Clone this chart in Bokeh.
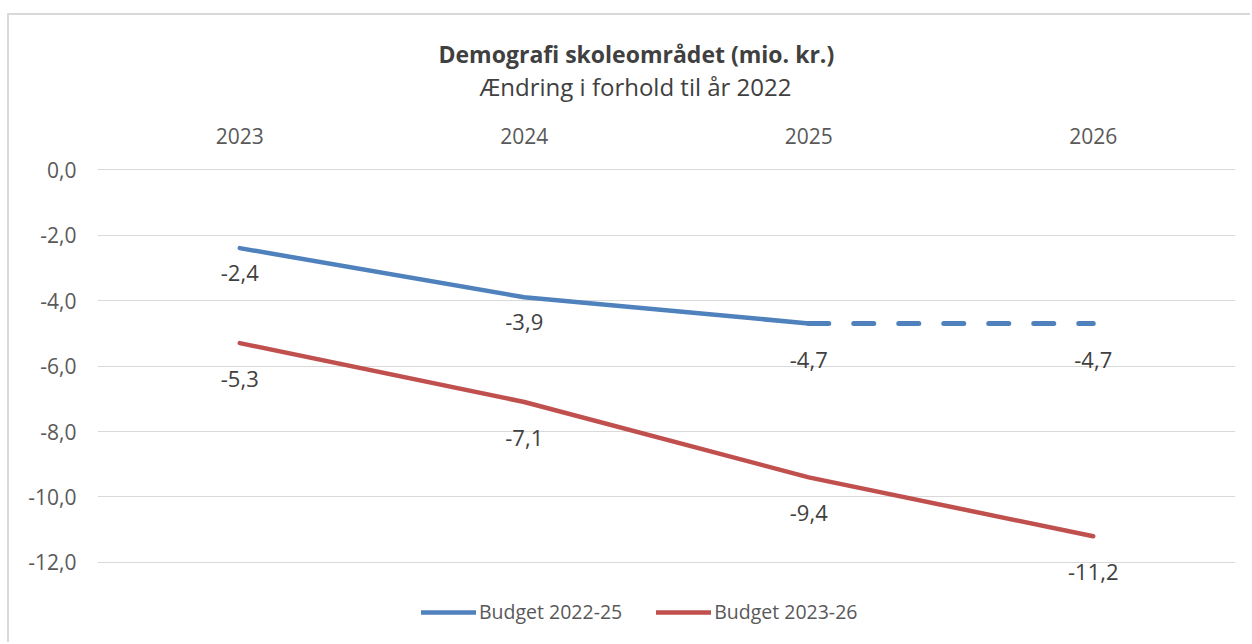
from bokeh.plotting import figure
from bokeh.models import (FactorRange, Range1d, CustomJSTickFormatter, Legend, LegendItem,
                          Title, ColumnDataSource, FixedTicker)
from bokeh.core.properties import value
from bokeh.embed import file_html
from bokeh.resources import INLINE

# ---- data ----
years = ["2023", "2024", "2025", "2026"]
budget_2022_25 = [-2.4, -3.9, -4.7, -4.7]
budget_2023_26 = [-5.3, -7.1, -9.4, -11.2]
y_ticks = [0, -2, -4, -6, -8, -10, -12]
series_names = ["Budget 2022-25", "Budget 2023-26"]
title_text = "Demografi skoleområdet (mio. kr.)"
subtitle_text = "Ændring i forhold til år 2022"

# ---- styles ----
BLUE = "#4f81bd"
RED = "#c0504d"
TXT = "#595959"
FONT = "Open Sans"
blue_label_dy = [25, 25, 37, 37]
red_label_dy = [36, 36, 36, 36]

p = figure(width=1243, height=629, x_range=FactorRange(*years),
           y_range=Range1d(-14.504, 0.153),
           output_backend="svg", toolbar_location=None, x_axis_location="above",
           min_border_left=88, min_border_right=17, min_border_top=149, min_border_bottom=0)
p.margin = (13, 0, 0, 7)
p.styles = {"border-top": "2px solid #d9d9d9", "border-left": "2px solid #d9d9d9"}
p.outline_line_color = None
p.background_fill_color = "white"
p.border_fill_color = "white"

# x axis (top)
p.xaxis.axis_line_color = None
p.xaxis.major_tick_line_color = None
p.xaxis.minor_tick_line_color = None
p.xaxis.major_tick_out = 0
p.xaxis.major_tick_in = 0
p.xaxis.major_label_text_font = FONT
p.xaxis.major_label_text_font_size = "21px"
p.xaxis.major_label_text_color = TXT
p.xaxis.major_label_standoff = 21
p.xaxis.axis_label = " "          # blank spacer between year labels and subtitle
p.xaxis.axis_label_text_font_size = "1px"
p.xaxis.axis_label_standoff = 16
p.xgrid.grid_line_color = None

p.yaxis.axis_line_color = None
p.yaxis.major_tick_line_color = None
p.yaxis.minor_tick_line_color = None
p.yaxis.major_tick_out = 0
p.yaxis.major_tick_in = 0
p.yaxis.ticker = FixedTicker(ticks=y_ticks)
p.yaxis.formatter = CustomJSTickFormatter(code="return tick.toFixed(1).replace('.', ',');")
p.yaxis.major_label_text_font = FONT
p.yaxis.major_label_text_font_size = "21px"
p.yaxis.major_label_text_color = TXT
p.yaxis.major_label_standoff = 21
p.ygrid.ticker = FixedTicker(ticks=y_ticks)
p.ygrid.grid_line_color = "#d9d9d9"
p.ygrid.grid_line_width = 1

# titles
sub = Title(text=subtitle_text, align="left", offset=382, text_font=FONT,
            text_font_size="24px", text_font_style="normal", text_color="#404040",
            standoff=0, vertical_align="top")
p.add_layout(sub, "above")
p.title.text = title_text
p.title.align = "left"
p.title.offset = 341
p.title.text_font = FONT
p.title.text_font_size = "23px"
p.title.text_font_style = "bold"
p.title.text_color = "#404040"
p.title.standoff = 0

# lines
n_solid = 3
blue_solid = p.line(years[:n_solid], budget_2022_25[:n_solid], line_color=BLUE, line_width=4.5,
                    line_cap="round", line_join="round")
p.line(years[n_solid - 1:], budget_2022_25[n_solid - 1:], line_color=BLUE, line_width=5,
       line_dash="20 25", line_cap="round")
red_line = p.line(years, budget_2023_26, line_color=RED, line_width=4.5,
                  line_cap="round", line_join="round")

# data labels
def fmt(v):
    return f"{v:.1f}".replace(".", ",")

src_b = ColumnDataSource(dict(x=years, y=budget_2022_25, t=[fmt(v) for v in budget_2022_25],
                              dy=blue_label_dy))
src_r = ColumnDataSource(dict(x=years, y=budget_2023_26, t=[fmt(v) for v in budget_2023_26],
                              dy=red_label_dy))
for src in (src_b, src_r):
    p.text(x="x", y="y", text="t", y_offset="dy", source=src, text_align="center",
           text_baseline="middle", text_font=value(FONT), text_font_size="22px",
           text_color="#404040")

legend = Legend(items=[LegendItem(label=series_names[0], renderers=[blue_solid]),
                       LegendItem(label=series_names[1], renderers=[red_line])],
                orientation="horizontal", location=(324, 19), margin=0, padding=5,
                glyph_width=55, glyph_height=20, label_standoff=3, spacing=34,
                label_text_font=FONT, label_text_font_size="19.5px", label_text_color=TXT,
                border_line_color=None, background_fill_alpha=0)
p.add_layout(legend, "center")

open("out.html", "w").write(file_html(p, INLINE))
